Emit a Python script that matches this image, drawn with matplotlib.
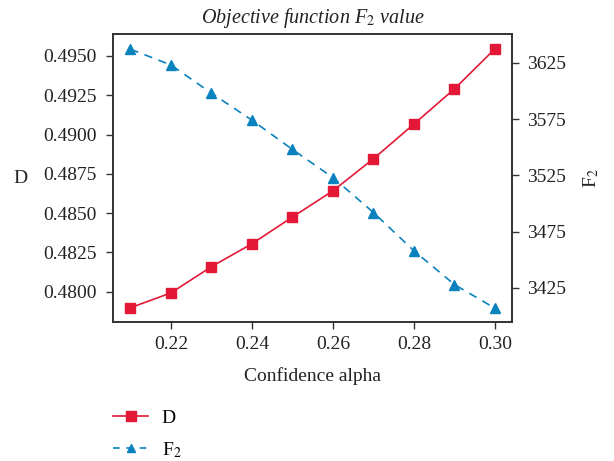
import matplotlib
matplotlib.use("Agg")
import matplotlib.pyplot as plt
from matplotlib.lines import Line2D

plt.rcParams['font.family'] = ['Liberation Serif', 'DejaVu Serif']
plt.rcParams['mathtext.fontset'] = 'stix'

alpha = [0.21, 0.22, 0.23, 0.24, 0.25, 0.26, 0.27, 0.28, 0.29, 0.30]
D = [0.47898, 0.47992, 0.48159, 0.48305, 0.48475, 0.48642, 0.48846, 0.49067, 0.49291, 0.49546]
F2 = [3637, 3623, 3598, 3574, 3548, 3523, 3492, 3458, 3428, 3407]

x_ticks = [0.22, 0.24, 0.26, 0.28, 0.30]
d_ticks = [0.4800, 0.4825, 0.4850, 0.4875, 0.4900, 0.4925, 0.4950]
f_ticks = [3425, 3475, 3525, 3575, 3625]

red = '#E31837'
blue = '#0A82BE'
txt = '#222222'
FS = 14

fig = plt.figure(figsize=(6.14, 4.61), dpi=100)
ax = fig.add_axes([113/614, 1-322/461, (512-113)/614, (322-34)/461])
ax2 = ax.twinx()

ax.plot(alpha, D, color=red, marker='s', markersize=7.5, linewidth=1.2)
ax2.plot(alpha, F2, color=blue, marker='^', markersize=7, linewidth=1.2,
         linestyle=(0, (5, 4)))

ax.set_xlim(0.2057, 0.3042)
ax.set_ylim(0.47807, 0.4964)
ax2.set_ylim(3394.8, 3650.5)

ax.set_xticks(x_ticks)
ax.set_xticklabels([f"{v:.2f}" for v in x_ticks])
ax.set_yticks(d_ticks)
ax.set_yticklabels([f"{v:.4f}" for v in d_ticks])
ax2.set_yticks(f_ticks)
ax2.set_yticklabels([str(v) for v in f_ticks])

for a in (ax, ax2):
    a.tick_params(labelsize=FS, length=5, width=1.0, color='#333333', labelcolor=txt)
    for s in a.spines.values():
        s.set_color('#333333')
        s.set_linewidth(1.2)
ax.tick_params(axis='y', pad=7)
ax.tick_params(axis='x', pad=5)
ax2.tick_params(axis='y', pad=6)

ax.set_xlabel('Confidence alpha', fontsize=FS, color=txt, labelpad=10)
ax.set_ylabel('D', fontsize=FS, rotation=0, color=txt, labelpad=16, va='center')
ax2.set_ylabel('F$_2$', fontsize=FS, color=txt, labelpad=11)
ax.set_title('Objective function F$_2$ value', fontsize=14.5, style='italic', color=txt, pad=8)

handles = [Line2D([], [], color=red, marker='s', markersize=7, linewidth=1.2),
           Line2D([], [], color=blue, marker='^', markersize=6, linewidth=1.2, linestyle=(0, (4, 4)))]
fig.legend(handles, ['D', 'F$_2$'], loc='upper left', bbox_to_anchor=(113/614, 1-409/461),
           frameon=False, fontsize=FS, handlelength=1.8, handletextpad=0.7,
           labelspacing=0.7, borderaxespad=0, borderpad=0)

fig.savefig('out.png', dpi=100)
